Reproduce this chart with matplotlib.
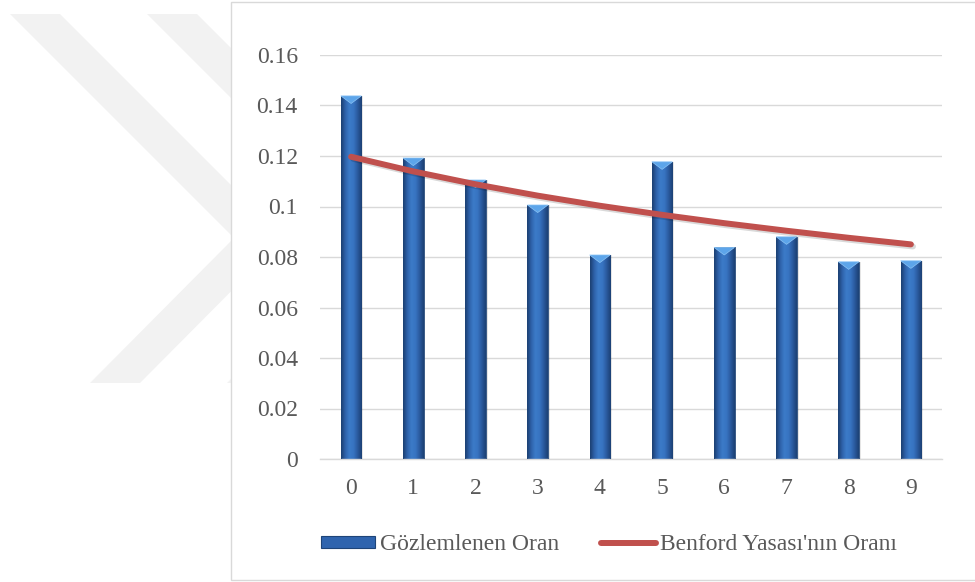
import numpy as np
import matplotlib.pyplot as plt
from matplotlib.colors import LinearSegmentedColormap
from matplotlib.patches import Polygon, Rectangle, Patch
from matplotlib.lines import Line2D
import matplotlib.patheffects as pe

plt.rcParams['font.family'] = ['Liberation Serif', 'DejaVu Serif']

digits = ['0', '1', '2', '3', '4', '5', '6', '7', '8', '9']
observed = [0.1438, 0.1192, 0.1105, 0.1006, 0.0808, 0.1177, 0.0838, 0.0880, 0.0781, 0.0785]
benford = [0.1197, 0.1139, 0.1088, 0.1043, 0.1003, 0.0967, 0.0934, 0.0904, 0.0876, 0.0850]
yticks = [0, 0.02, 0.04, 0.06, 0.08, 0.1, 0.12, 0.14, 0.16]
ytick_labels = ['0', '0.02', '0.04', '0.06', '0.08', '0.1', '0.12', '0.14', '0.16']
labels = ['Gözlemlenen Oran', "Benford Yasası'nın Oranı"]

W, H = 975, 582
TEXT = '#595959'
GRID = '#D9D9D9'
RED = '#C0504D'

fig = plt.figure(figsize=(W / 100, H / 100), dpi=100)


def px(x, y):
    # pixel position (top-left origin) -> figure fraction
    return (x / W, 1 - y / H)


# light chevron marks in the background
for shift in (0, 137):
    pts = [(10, 14), (60, 14), (284, 238), (140, 383), (90, 383), (234, 238)]
    poly = Polygon([px(x + shift, y) for x, y in pts], closed=True,
                   transform=fig.transFigure, facecolor='#F2F2F2',
                   edgecolor='none', zorder=0)
    fig.patches.append(poly)

# chart area
x0, y0 = px(231, 580)
x1, y1 = px(990, 2)
frame = Rectangle((x0, y0), x1 - x0, y1 - y0, transform=fig.transFigure,
                  facecolor='white', edgecolor=GRID, lw=1.0, zorder=1)
fig.patches.append(frame)

ax = fig.add_axes([320 / W, (H - 459) / H, (942 - 320) / W, (459 - 55) / H])
ax.set_zorder(2)
ax.patch.set_alpha(0)

x = np.arange(len(digits))
width = 0.33

bar_cmap = LinearSegmentedColormap.from_list(
    'bar', ['#1B3E70', '#2E62AA', '#3C7BC8', '#3874C2', '#2A5A9E', '#1C4174'])
grad = np.linspace(0, 1, 64).reshape(1, -1)

# soft shadow behind the bars
ax.bar(x + 0.03, observed, width=width, color='#000000', alpha=0.10,
       zorder=1.5, linewidth=0)

bars = ax.bar(x, observed, width=width, color='none', edgecolor='#1E4478',
              linewidth=0.6, zorder=3)
for b, val in zip(bars, observed):
    bx = b.get_x()
    im = ax.imshow(grad, extent=[bx, bx + width, 0, val], aspect='auto',
                   cmap=bar_cmap, zorder=2.5, interpolation='bicubic')
    im.set_clip_path(b)
    # bevelled top
    bevel = 0.0030
    tri = Polygon([(bx, val), (bx + width, val), (bx + width / 2, val - bevel)],
                  closed=True, facecolor='#5DA5EA', edgecolor='#8CC4F5',
                  linewidth=0.5, zorder=3.2)
    ax.add_patch(tri)

ax.plot(x, benford, color=RED, lw=4.3, solid_capstyle='round', zorder=4,
        path_effects=[pe.SimpleLineShadow(offset=(1.5, -1.5), alpha=0.15),
                      pe.Normal()])

ax.set_xlim(-0.5, 9.5)
ax.set_ylim(0, 0.16)
ax.set_xticks(x)
ax.set_xticklabels(digits)
ax.set_yticks(yticks)
ax.set_yticklabels(ytick_labels)
ax.tick_params(axis='both', length=0, labelsize=17, labelcolor=TEXT)
ax.tick_params(axis='y', pad=16)
ax.tick_params(axis='x', pad=14)
ax.grid(axis='y', color=GRID, lw=1.0)
ax.set_axisbelow(True)
for s in ['top', 'right', 'left']:
    ax.spines[s].set_visible(False)
ax.spines['bottom'].set_color(GRID)
ax.spines['bottom'].set_linewidth(1.0)

handles = [Patch(facecolor='#2F64AE', edgecolor='#1E4478', linewidth=0.8),
           Line2D([], [], color=RED, lw=4.3, solid_capstyle='round')]
fig.legend(handles, labels, loc='center', bbox_to_anchor=(609 / W, 1 - 545 / H),
           bbox_transform=fig.transFigure, ncol=2, frameon=False,
           fontsize=17, labelcolor=TEXT, handlelength=2.3, handleheight=0.35,
           handletextpad=0.2, columnspacing=1.8)

fig.savefig('out.png', dpi=100)
